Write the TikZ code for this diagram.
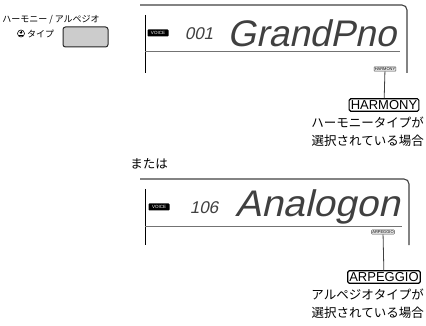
\documentclass[tikz,border=0pt]{standalone}
\usepackage{fontspec}
\setmainfont{Liberation Sans}
\newfontfamily\jpfont{Noto Sans CJK JP}
\newfontfamily\lcdfont{Liberation Sans}[FakeSlant=0.22]
\newcommand{\fsz}[1]{\fontsize{#1}{1.2\dimexpr#1pt\relax}\selectfont}
\usetikzlibrary{arrows.meta}
\begin{document}
\begin{tikzpicture}[x=1pt,y=-1pt,
  jp/.style={font=\jpfont\fsz{#1}, inner sep=0pt},
  lcdedge/.style={black!75, line width=1.1pt, rounded corners=5pt},
  lcdside/.style={black, line width=0.9pt},
  lcdsep/.style={black!55, line width=0.7pt},
  voicetag/.style={fill=black, text=white, font=\fsz{4.5}, rounded corners=0.8pt, minimum width=21pt, minimum height=7pt, inner sep=0pt},
  lcdtext/.style={font=\lcdfont\fsz{#1}, text=black!75, inner sep=0pt},
  smalltag/.style={draw=black!70, fill=black!8, line width=0.5pt, font=\fsz{4}, rounded corners=0.6pt, inner sep=0.7pt},
  bigtag/.style={draw, line width=1.1pt, font=\fsz{13}, rounded corners=1.5pt, inner sep=1.6pt},
  stem/.style={black!75, line width=0.8pt}]
\useasboundingbox (0,0) rectangle (426,326);
% button
\node[jp=9] (btntitle) at (51,20) {ハーモニー / アルペジオ};
\node[jp=9, anchor=west] (btntype) at (27,33.5) {タイプ};
\node[circle, draw, line width=0.6pt, minimum size=7pt, inner sep=0pt] (hold) at (21,33.5) {};
\draw[line width=0.6pt, -{Triangle[length=2pt,width=3.2pt]}] ([yshift=2.6pt]hold.center) -- ([yshift=-0.4pt]hold.center);
\draw[line width=0.6pt] ([xshift=-1.8pt,yshift=-1.6pt]hold.center) -- ([xshift=1.8pt,yshift=-1.6pt]hold.center);
\node[draw=black!85, fill=black!20, line width=1pt, rounded corners=2.5pt, minimum width=45pt, minimum height=20pt] (btn) at (85.5,37) {};
% first display
\draw[lcdedge] (140,5) -| (407,73);
\draw[lcdside] (145,15) -- (145,73);
\draw[lcdsep] (145,51) -- (400,51);
\node[voicetag] (voice1) at (158,33) {VOICE};
\node[lcdtext=17] (num1) at (199,34) {001};
\node[lcdtext=37, anchor=west, xscale=1.0] (name1) at (227,33) {GrandPno};
\node[smalltag] (htag) at (385,69) {HARMONY};
\node[bigtag] (harmony) at (384,105) {HARMONY};
\draw[stem] (htag) -- (harmony);
\node[jp=12.5, align=right, anchor=north east] (hcap) at (424,117) {ハーモニータイプが\\[2.5pt]選択されている場合};
\node[jp=12.5] (or) at (149,164) {または};
% second display
\draw[lcdedge] (140,179) -| (409,245);
\draw[lcdside] (145,189) -- (145,245);
\draw[lcdsep] (145,226) -- (402,226);
\node[voicetag] (voice2) at (159,207) {VOICE};
\node[lcdtext=17] (num2) at (204,208) {106};
\node[lcdtext=37, anchor=west, xscale=1.05] (name2) at (235,207) {Analogon};
\node[smalltag] (atag) at (383,232) {ARPEGGIO};
\node[bigtag] (arpeggio) at (384,277) {ARPEGGIO};
\draw[stem] (atag) -- (arpeggio);
\node[jp=12.5, align=right, anchor=north east] (acap) at (424,289) {アルペジオタイプが\\[2.5pt]選択されている場合};
\end{tikzpicture}
\end{document}
